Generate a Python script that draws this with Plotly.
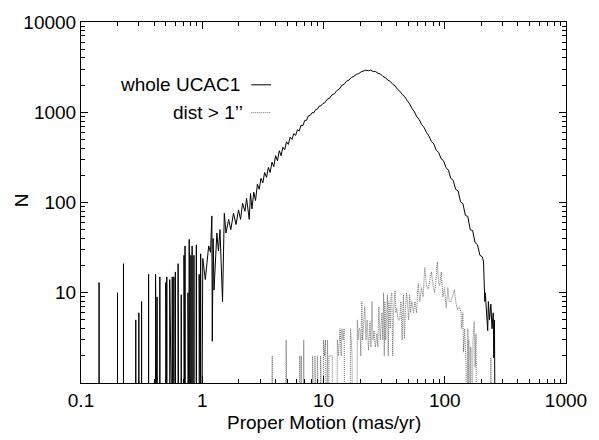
import plotly.graph_objects as go

# ---------------- data ----------------
# whole UCAC1: isolated histogram spikes at small proper motion (empty bins around them)
spike_pm = [0.141, 0.200, 0.224, 0.283, 0.300, 0.316, 0.361, 0.412, 0.424, 0.447,
            0.500, 0.510, 0.539, 0.566, 0.583, 0.600, 0.608, 0.632, 0.640, 0.671,
            0.707, 0.721, 0.762, 0.781, 0.806, 0.825, 0.854, 0.894, 0.906, 0.943, 0.970]
spike_n = [13, 10, 21, 5, 6, 8, 16, 16, 9, 15,
           13, 15, 14, 15, 15, 17, 17, 21, 12, 9.5,
           26, 33, 10, 39, 26, 33, 26, 34, 30, 16, 27]

# whole UCAC1: continuous part of the histogram
curve_pm = [0.99, 1.01, 1.06, 1.13, 1.17, 1.20, 1.21, 1.23, 1.25, 1.32, 1.36, 1.40, 1.47,
            1.52, 1.57, 1.65, 1.72, 1.81, 1.90, 1.99, 2.07, 2.15, 2.25, 2.32, 2.44, 2.50,
            2.57, 2.66, 2.75, 2.85, 2.95, 3.05, 3.16, 3.27, 3.39, 3.51, 3.63, 3.76, 3.89,
            4.03, 4.17, 4.32, 4.47, 4.62, 4.79, 4.95, 5.13, 5.31, 5.50, 5.69, 5.89, 6.10,
            6.31, 6.53, 6.76, 7.00, 7.24, 7.50, 7.76, 8.04, 8.32, 8.61, 8.91, 9.23, 9.55,
            9.89, 10.23, 10.72, 11.22, 11.75, 12.30, 12.88, 13.49, 14.13, 14.79, 15.49,
            16.22, 16.98, 17.78, 18.62, 19.50, 20.42, 21.38, 22.39, 23.44, 24.55, 25.70,
            26.92, 28.18, 29.51, 30.90, 32.36, 33.88, 35.48, 37.15, 38.90, 40.74, 42.66,
            44.67, 46.77, 48.98, 51.29, 53.70, 56.23, 58.88, 61.66, 64.57, 67.61, 70.79,
            74.13, 77.62, 81.28, 85.11, 89.13, 93.33, 97.72, 102.3, 107.2, 112.2, 117.5,
            123.0, 128.8, 134.9, 141.3, 147.9, 154.9, 162.2, 169.8, 177.8, 186.2, 195.0,
            204.2, 208.9, 213.8, 216.0, 221.0, 226.0, 229.0, 234.0, 240.0, 245.5, 251.0,
            254.0, 257.0, 261.0]
curve_n = [0, 24, 14, 33, 28, 71, 2.9, 40, 10.7, 46, 29, 50, 8,
           76, 46, 65, 50, 76, 57, 83, 65, 98, 80, 111, 65, 126,
           85, 130, 105, 160, 140, 185, 165, 215, 190, 245, 215, 280, 250,
           330, 290, 375, 330, 410, 385, 470, 440, 530, 500, 580, 555, 640,
           620, 720, 710, 810, 815, 910, 920, 990, 985, 1070, 1085, 1170, 1180,
           1250, 1270, 1390, 1430, 1560, 1600, 1740, 1800, 1980, 2040, 2210,
           2270, 2430, 2490, 2630, 2680, 2800, 2840, 2930, 2880, 2920, 2830,
           2820, 2700, 2650, 2490, 2420, 2270, 2200, 2050, 1960, 1800, 1710,
           1570, 1490, 1350, 1240, 1100, 1010, 890, 825, 730, 675, 595,
           545, 475, 445, 380, 358, 305, 290, 245, 228, 185, 176,
           140, 134, 102, 97, 72, 70, 50, 49, 36, 34, 26,
           25, 22, 8, 10, 6, 3.8, 8, 5, 7.5, 4, 6,
           1.9, 5, 0]

# dist > 1'' subsample
dist_pm = [3.70, 3.74, 3.78, 3.82,
           4.88, 4.92, 4.96, 5.00,
           6.33, 6.37, 6.45, 6.55, 6.60, 6.83, 6.87, 6.92,
           8.08, 8.13, 8.20, 8.45, 8.50, 8.55, 8.85, 8.90, 8.95, 9.40, 9.46, 9.52,
           9.95, 10.0, 10.2, 10.4, 10.6, 10.8, 11.0, 11.1, 11.4, 11.8, 11.9,
           12.9, 13.0, 13.3, 13.7, 14.0, 14.2, 14.5, 14.8, 15.0,
           16.6, 16.7, 16.95, 17.2, 17.4,
           18.9, 19.0, 19.3, 19.6, 20.0, 20.3, 20.7, 21.0, 21.5, 21.9, 22.4, 22.9,
           23.5, 24.2, 24.6, 25.1, 25.6, 26.1, 26.8, 27.6, 28.1, 28.6, 29.4, 30.3,
           30.8, 31.3, 31.7, 32.1, 32.6, 33.1, 33.7, 34.2, 34.6, 35.5, 36.0, 36.6,
           37.2, 37.8, 38.9, 39.5, 40.2, 41.3, 42.5, 43.5, 44.5, 45.6, 46.5, 47.5,
           48.5, 49.5, 50.4, 51.3, 52.3, 53.5, 55.3, 56.8, 58.5, 60.4, 62.3, 64.3,
           66.3, 68.4, 70.6, 72.9, 75.2, 77.6, 80.1, 82.6, 84.7, 86.9, 88.8, 90.8,
           93.6, 96.6, 99.6, 102.8, 106, 109, 113, 117, 120, 124, 127, 131,
           136, 138, 141, 143, 146, 150, 152, 155, 157, 158, 160, 162,
           164, 167, 171, 175, 178, 181, 183, 238, 240, 242]
dist_n = [0, 2, 2, 0,
          0, 3, 2, 0,
          0, 2, 0, 2, 0, 0, 3, 0,
          0, 2, 0, 0, 2, 0, 0, 2, 0, 0, 2, 0,
          0, 3, 2, 3, 0, 3, 0, 2, 2, 2, 0,
          0, 3, 2, 4, 2, 4, 3, 4, 0,
          0, 4, 3, 2, 0,
          0, 5, 3, 4, 4, 2, 8, 3, 5, 7, 3, 5,
          2.3, 4.8, 2.5, 8, 3, 3.8, 2.5, 3.5, 2.5, 7, 3, 6,
          3, 10, 2, 8, 3, 7, 9.5, 2, 8, 4, 9, 10,
          2, 6, 10.5, 6, 6.7, 5, 5, 8, 3, 9.5, 3.1, 7,
          10, 7, 5, 9.5, 6, 8, 6, 8, 6, 12.6, 8, 11.4,
          9, 19, 12, 11, 14, 17, 12, 10, 14, 22, 13, 12,
          17, 9, 11.4, 6.8, 11.4, 8, 8, 10, 10.8, 7.6, 6.5, 7,
          6.2, 4, 6, 2.2, 4, 1.5, 0, 4, 0, 3, 1.2, 0,
          2.5, 0, 3, 4.8, 1.5, 3.5, 0, 0, 1.9, 0]

x_tick_vals = [0.1, 1, 10, 100, 1000]
x_tick_text = ["0.1", "1", "10", "100", "1000"]
y_tick_vals = [1, 10, 100, 1000, 10000]
y_tick_text = ["", "10", "100", "1000", "10000"]

# ---------------- build traces ----------------
EMPTY_BIN = 0.1  # empty bins are drawn below the log axis (clipped)


def shown(values):
    return [EMPTY_BIN if v == 0 else v for v in values]


whole_x, whole_y = [], []
for px, n in zip(spike_pm, spike_n):
    whole_x += [px, px, px]
    whole_y += [0, n, 0]
whole_x += curve_pm
whole_y += curve_n

fig = go.Figure()
fig.add_trace(go.Scatter(x=dist_pm, y=shown(dist_n), mode="lines",
                         line=dict(color="#707070", width=1, dash="1px,1px"),
                         name="dist > 1’’"))
fig.add_trace(go.Scatter(x=whole_x, y=shown(whole_y), mode="lines",
                         line=dict(color="black", width=1),
                         name="whole UCAC1"))

minor_x = [m * 10.0 ** e for e in range(-1, 3) for m in range(2, 10)]
minor_y = [m * 10.0 ** e for e in range(0, 4) for m in range(2, 10)]

axis_common = dict(type="log", showline=True, linecolor="black", linewidth=1,
                   mirror="allticks", ticks="inside", ticklen=7, tickcolor="black",
                   showgrid=False, zeroline=False)

fig.update_xaxes(range=[-1, 3], tickmode="array", tickvals=x_tick_vals, ticktext=x_tick_text,
                 minor=dict(tickmode="array", tickvals=minor_x, ticks="inside", ticklen=4,
                            tickcolor="black", showgrid=False),
                 **axis_common)
fig.update_yaxes(range=[0, 4], tickmode="array", tickvals=y_tick_vals, ticktext=y_tick_text,
                 minor=dict(tickmode="array", tickvals=minor_y, ticks="inside", ticklen=4,
                            tickcolor="black", showgrid=False),
                 **axis_common)

font_family = "Liberation Sans, Arial, Helvetica, sans-serif"

fig.update_layout(
    width=599, height=440,
    margin=dict(l=81, r=28, t=16, b=57),
    plot_bgcolor="white", paper_bgcolor="white",
    showlegend=False,
    font=dict(family=font_family, size=19, color="black"),
    annotations=[
        dict(text="whole UCAC1", x=0.332, y=0.826, xref="paper", yref="paper",
             xanchor="right", yanchor="middle", showarrow=False),
        dict(text="dist > 1’’", x=0.338, y=0.749, xref="paper", yref="paper",
             xanchor="right", yanchor="middle", showarrow=False),
        dict(text="Proper Motion (mas/yr)", x=0.5, y=-0.109, xref="paper", yref="paper",
             xanchor="center", yanchor="middle", showarrow=False),
        dict(text="N", x=-0.121, y=0.507, xref="paper", yref="paper", textangle=-90,
             xanchor="center", yanchor="middle", showarrow=False),
    ],
    shapes=[
        dict(type="line", xref="paper", yref="paper", x0=0.351, x1=0.392, y0=0.826, y1=0.826,
             line=dict(color="black", width=1)),
        dict(type="line", xref="paper", yref="paper", x0=0.351, x1=0.392, y0=0.749, y1=0.749,
             line=dict(color="#707070", width=1, dash="1px,1px")),
    ],
)

fig.write_html("out.html",
               config={"displayModeBar": False, "staticPlot": True},
               post_script="document.body.style.margin='0px';document.body.style.overflow='hidden';")
